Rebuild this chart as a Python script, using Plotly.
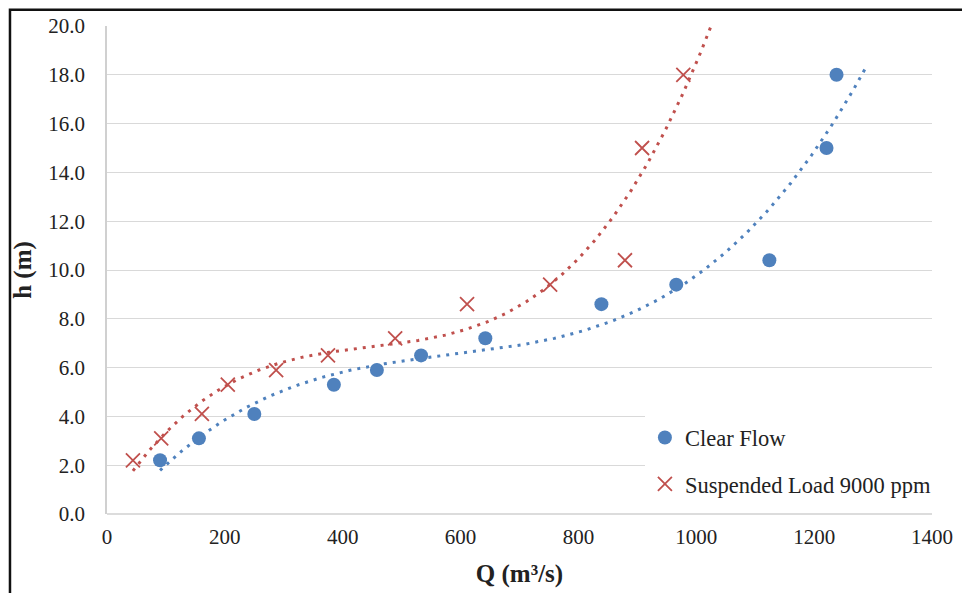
import numpy as np
import plotly.graph_objects as go

# Clear Flow data
clear_q = [90, 156, 250, 385, 458, 533, 642, 839, 966, 1124, 1221, 1238]
clear_h = [2.2, 3.1, 4.1, 5.3, 5.9, 6.5, 7.2, 8.6, 9.4, 10.4, 15.0, 18.0]

# Suspended Load 9000 ppm data
susp_q = [44, 92, 161, 205, 287, 375, 489, 611, 752, 879, 908, 978]
susp_h = [2.2, 3.1, 4.1, 5.3, 5.9, 6.5, 7.2, 8.6, 9.4, 10.4, 15.0, 18.0]

y_ticks = [0, 2, 4, 6, 8, 10, 12, 14, 16, 18, 20]
x_ticks = [0, 200, 400, 600, 800, 1000, 1200, 1400]

BLUE = "#4f81bd"
RED = "#c0504d"
FORECAST = 50  # trendline forward forecast (Excel-like)


def trend(q, h):
    coef = np.polyfit(q, h, 3)
    xs = np.linspace(min(q), max(q) + FORECAST, 300)
    return xs, np.polyval(coef, xs)


fig = go.Figure()

tx, ty = trend(clear_q, clear_h)
fig.add_trace(go.Scatter(x=tx, y=ty, mode="lines", showlegend=False, hoverinfo="skip",
                         line=dict(color=BLUE, width=3, dash="3px,6px")))
tx, ty = trend(susp_q, susp_h)
fig.add_trace(go.Scatter(x=tx, y=ty, mode="lines", showlegend=False, hoverinfo="skip",
                         line=dict(color=RED, width=3, dash="3px,6px")))

fig.add_trace(go.Scatter(x=clear_q, y=clear_h, mode="markers", name="Clear Flow",
                         legendgroup="a",
                         marker=dict(symbol="circle", size=14, color=BLUE)))
fig.add_trace(go.Scatter(x=susp_q, y=susp_h, mode="markers", name="Suspended Load 9000 ppm",
                         legendgroup="b",
                         marker=dict(symbol="x-thin", size=14, color=RED,
                                     line=dict(color=RED, width=1.8))))

FF = "Liberation Serif"
TXT = "#222222"

fig.update_layout(
    width=970, height=593,
    margin=dict(l=99, r=46, t=18, b=87, autoexpand=False),
    paper_bgcolor="white", plot_bgcolor="white",
    font=dict(family=FF, size=21, color=TXT),
    showlegend=True,
    legend=dict(x=0.652, y=0.2, xanchor="left", yanchor="top",
                bgcolor="white", font=dict(size=22.5, family=FF, color=TXT),
                traceorder="grouped", tracegroupgap=14, itemwidth=30),
    xaxis=dict(range=[0, 1400], tickvals=x_ticks, ticktext=[str(v) for v in x_ticks],
               tickfont=dict(family=FF, size=21, color=TXT), automargin=False,
               showgrid=False, zeroline=False, showline=False, ticks="",
               ticklabelstandoff=8,
               title=dict(text="<b>Q (m³/s)</b>", standoff=16,
                          font=dict(size=25, family=FF, color=TXT))),
    yaxis=dict(range=[0, 20], tickvals=y_ticks, ticktext=[f"{v:.1f}" for v in y_ticks],
               tickfont=dict(family=FF, size=21, color=TXT), automargin=False,
               showgrid=True, gridcolor="#d9d9d9", gridwidth=1.3,
               zeroline=False, showline=True, linecolor="#d0d0d0", linewidth=1.5,
               ticks="", ticklabelstandoff=16,
               title=dict(text="<b>h (m)</b>", standoff=10,
                          font=dict(size=25, family=FF, color=TXT))),
    shapes=[
        dict(type="line", xref="paper", yref="paper", x0=0, x1=1, y0=0, y1=0,
             line=dict(color="#d0d0d0", width=1.5), layer="above"),
        dict(type="rect", xref="paper", yref="paper",
             x0=-0.1176, x1=1.0412, y0=-0.3, y1=1.0334,
             line=dict(color="#111111", width=2.5), layer="above"),
    ],
)

fig.write_html("out.html")
